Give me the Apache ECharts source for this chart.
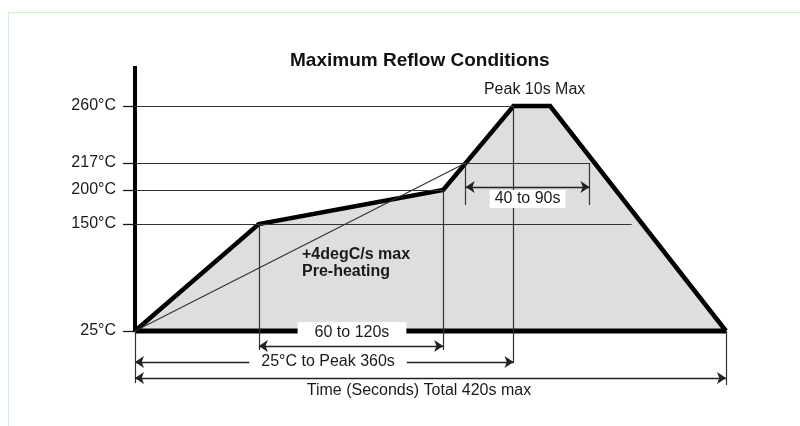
<!DOCTYPE html>
<html>
<head>
<meta charset="utf-8">
<style>
  html, body { margin: 0; padding: 0; background: #fff; }
  #frame { position: absolute; left: 8px; top: 12px; width: 820px; height: 440px;
           border-left: 1px solid #c8f5c8; border-top: 1px solid #c8f5c8; }
  #chart { position: absolute; left: 0; top: 0; width: 800px; height: 426px; }
</style>
<script src="https://cdn.jsdelivr.net/npm/echarts@6/dist/echarts.min.js"></script>
</head>
<body>
<div id="frame"></div>
<div id="chart"></div>
<script>
// temperature ticks on the y axis (degC)
const tempTicks = [25, 150, 200, 217, 260];

// reflow profile: time (s) / temperature (degC)
const profileTime = [0, 88, 219, 269, 295, 420];
const profileTemp = [25, 150, 200, 260, 260, 25];

// thin +4degC/s ramp reference
const rampTime = [0, 235];
const rampTemp = [25, 217];

// horizontal temperature guides and the time where each one stops
const guideTemp = [150, 200, 217, 260];
const guideEnd = [353, 219, 323, 269];

// timing windows [from, to] in seconds
const win40to90 = [235, 323];
const win60to120 = [88, 219];
const winToPeak = [0, 269];
const winTotal = [0, 420];

// ---- layout (schematic diagram: the temperature axis is not linear) ----
// drawn height above the 25degC baseline for every tick temperature
const tickHeight = [0, 107, 141, 168, 225];
function h(t) {
  for (let i = 1; i < tempTicks.length; i++) {
    if (t <= tempTicks[i]) {
      const a = tempTicks[i - 1], b = tempTicks[i];
      return tickHeight[i - 1] + (t - a) / (b - a) * (tickHeight[i] - tickHeight[i - 1]);
    }
  }
  return tickHeight[tickHeight.length - 1];
}
const FONT = 'Liberation Sans, Arial, sans-serif';
const INK = '#1a1a1a';

const pair = (a, b) => [{ coord: a }, { coord: b }];

// thin guide lines
const guides = [];
guideTemp.forEach((t, i) => guides.push(pair([0, h(t)], [guideEnd[i], h(t)])));
guides.push(pair([rampTime[0], h(rampTemp[0])], [rampTime[1], h(rampTemp[1])]));
guides.push(pair([win60to120[0], h(150)], [win60to120[0], -19]));
guides.push(pair([win60to120[1], h(200)], [win60to120[1], -19]));
guides.push(pair([winToPeak[1], h(260)], [winToPeak[1], -32]));
guides.push(pair([win40to90[0], h(217)], [win40to90[0], 126]));
guides.push(pair([win40to90[1], h(217)], [win40to90[1], 126]));
guides.push(pair([winTotal[0], 0], [winTotal[0], -52]));
guides.push(pair([winTotal[1], 0], [winTotal[1], -54]));

// dimension arrows
const arrows = [
  pair([win40to90[0], 144], [win40to90[1], 144]),
  pair([win60to120[0], -15], [win60to120[1], -15]),
  pair([winToPeak[0], -31], [winToPeak[1], -31]),
  pair([winTotal[0], -47], [winTotal[1], -47])
];

function note(x, y, text, opt) {
  return {
    value: [x, y],
    label: Object.assign({
      show: true, formatter: text, position: 'inside', color: INK, opacity: 1,
      textBorderWidth: 0, textBorderColor: 'transparent',
      fontSize: 16, fontFamily: FONT
    }, opt || {})
  };
}
const notes = [
  note(284, 241, 'Peak 10s Max'),
  note(118.7, 76, '+4degC/s max', { position: 'right', distance: 0, fontWeight: 'bold' }),
  note(118.7, 59, 'Pre-heating', { position: 'right', distance: 0, fontWeight: 'bold' }),
  note(279, 132, '40 to 90s', { backgroundColor: '#fff', padding: [1, 5] }),
  note(154.2, -2, '60 to 120s', { backgroundColor: '#fff', padding: [3, 17] }),
  note(137.2, -31, '25°C to Peak 360s', { backgroundColor: '#fff', padding: [0, 12] }),
  note(201.8, -60, 'Time (Seconds) Total 420s max')
];

const chart = echarts.init(document.getElementById('chart'));
chart.setOption({
  animation: false,
  backgroundColor: 'transparent',
  title: {
    text: 'Maximum Reflow Conditions', left: 290, top: 51, padding: 0,
    textStyle: { fontSize: 19, fontWeight: 'bold', color: '#111', fontFamily: FONT }
  },
  grid: { left: 135, right: 74, top: 66, bottom: 26 },
  xAxis: { type: 'value', min: 0, max: 420, show: false },
  yAxis: {
    type: 'value', min: -69, max: 265,
    splitLine: { show: false },
    axisLine: { show: false },
    axisTick: { show: true, customValues: tickHeight, length: 12, lineStyle: { color: INK, width: 1.3 } },
    axisLabel: {
      customValues: tickHeight, margin: 19, color: INK, fontSize: 16, fontFamily: FONT,
      formatter: v => tempTicks[tickHeight.indexOf(v)] + '°C'
    }
  },
  series: [
    {
      type: 'line', z: 1, silent: true, symbol: 'none',
      data: profileTime.map((t, i) => [t, h(profileTemp[i])]),
      lineStyle: { width: 0 },
      areaStyle: { color: '#dedede', opacity: 1 }
    },
    {
      type: 'line', z: 2, silent: true, data: [],
      markLine: {
        silent: true, symbol: ['none', 'none'], label: { show: false },
        lineStyle: { color: '#333', width: 1.2, type: 'solid' },
        emphasis: { disabled: true },
        data: guides
      }
    },
    {
      type: 'line', z: 2, silent: true, data: [],
      markLine: {
        silent: true, symbol: ['arrow', 'arrow'], symbolSize: 9, label: { show: false },
        lineStyle: { color: '#222', width: 1.3, type: 'solid' },
        itemStyle: { color: '#222' },
        emphasis: { disabled: true },
        data: arrows
      }
    },
    {
      type: 'line', z: 3, silent: true, symbol: 'none',
      data: profileTime.map((t, i) => [t, h(profileTemp[i])]),
      lineStyle: { color: '#000', width: 4.5, join: 'miter' }
    },
    {
      type: 'line', z: 3, silent: true, symbol: 'none',
      data: [[0, 0], [0, 265]],
      lineStyle: { color: '#000', width: 4 }
    },
    {
      type: 'line', z: 3, silent: true, symbol: 'none',
      data: [[0, 0], [420, 0]],
      lineStyle: { color: '#000', width: 5 }
    },
    {
      type: 'scatter', z: 5, silent: true, symbolSize: 0,
      itemStyle: { opacity: 1 },
      data: notes
    }
  ]
});
</script>
</body>
</html>
